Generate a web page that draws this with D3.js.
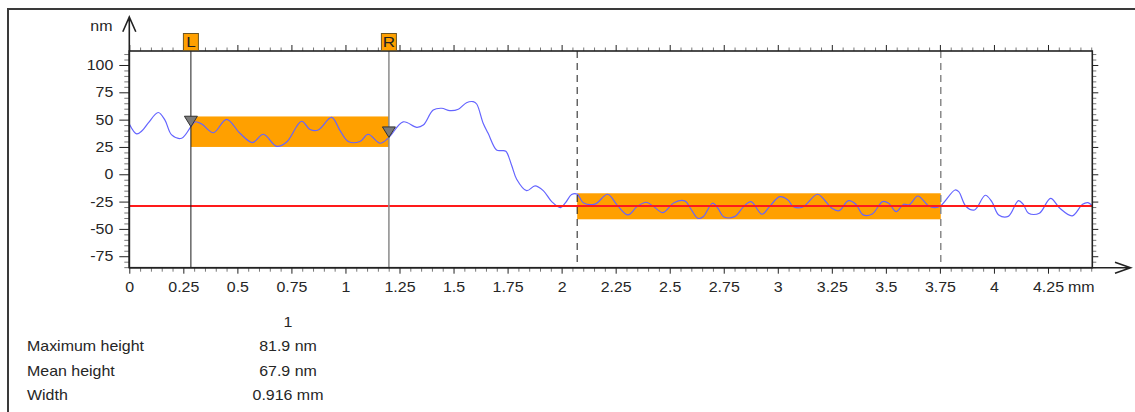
<!DOCTYPE html>
<html>
<head>
<meta charset="utf-8">
<script src="https://cdn.jsdelivr.net/npm/d3@7"></script>
<style>
  html, body { margin: 0; padding: 0; background: #fff; }
  svg { display: block; font-family: "Liberation Sans", Arial, Helvetica, sans-serif; }
</style>
</head>
<body>
<svg id="chart" width="1135" height="412"></svg>
<script>
// Height profile along the scan (position in mm, height in nm)
const profileX = [0.000,0.034,0.060,0.088,0.134,0.165,0.196,0.242,0.285,0.304,
  0.335,0.389,0.450,0.512,0.570,0.620,0.682,0.728,0.797,0.836,
  0.874,0.936,0.975,1.013,1.067,1.105,1.160,1.200,1.267,1.330,
  1.360,1.406,1.445,1.483,1.522,1.560,1.591,1.607,1.637,1.660,
  1.699,1.722,1.742,1.769,1.792,1.838,1.877,1.915,1.954,1.995,
  2.018,2.046,2.072,2.100,2.154,2.213,2.256,2.307,2.349,2.392,
  2.426,2.469,2.520,2.570,2.596,2.630,2.655,2.698,2.723,2.749,
  2.800,2.842,2.876,2.927,2.962,3.009,3.047,3.072,3.114,3.183,
  3.216,3.250,3.284,3.327,3.361,3.395,3.437,3.485,3.513,3.548,
  3.582,3.608,3.648,3.695,3.727,3.755,3.820,3.837,3.871,3.910,
  3.960,3.990,4.022,4.066,4.113,4.135,4.160,4.210,4.262,4.305,
  4.362,4.410,4.435,4.455];
const profileNm = [46,37,40,47,56.5,49.5,36,33,43.5,48,
  46,38,50.3,37.5,29,36.6,25.5,29.5,48.5,41,
  40.5,52,40,30,30,36.6,28.4,33.5,48,43,
  45,58.8,60.4,58.2,59.5,65.5,66.4,64.3,46.7,37.5,
  22.2,21.6,21,8,-4.5,-15,-10.7,-15,-25,-30.5,
  -26,-18.6,-18.2,-26,-27.3,-18.3,-28,-37.2,-29.6,-25.6,
  -29.6,-35.1,-26,-24.4,-31.1,-40.3,-38.8,-26.5,-31.1,-38.8,
  -38.8,-29.6,-25,-36.6,-29.6,-20.5,-23.5,-29.6,-30.2,-18.3,
  -23.5,-31.1,-33.3,-24.2,-27.4,-37.2,-36.3,-25,-26.5,-34.2,
  -27.4,-28,-19.9,-28.5,-30.5,-28.5,-14.4,-15.9,-29.5,-32.7,
  -19.2,-25,-37.2,-38.5,-24.2,-27.4,-35.7,-35.7,-22,-31.1,
  -38,-27.5,-26,-29];

// Axis ticks
const xTicks = [0,0.25,0.5,0.75,1,1.25,1.5,1.75,2,2.25,2.5,2.75,3,3.25,3.5,3.75,4,4.25];
const xTickLabels = ["0","0.25","0.5","0.75","1","1.25","1.5","1.75","2","2.25","2.5","2.75","3","3.25","3.5","3.75","4","4.25"];
const yTicks = [-75,-50,-25,0,25,50,75,100];
const yTickLabels = ["-75","-50","-25","0","25","50","75","100"];
const xUnit = "mm";
const yUnit = "nm";

// Reference region (dashed cursors) and its level
const refRegion = [2.072, 3.754];
const refBand = [-41.2, -17.4];
const refLevel = -29.0;

// Measurement region between cursors L and R
const cursorL = 0.285;
const cursorLabels = ["L", "R"];
const measureMin = 25.0;

// Results table
const statHeader = "1";
const statNames = ["Maximum height", "Mean height", "Width"];
const maxHeight = 81.9;
const meanHeight = 67.9;
const widthMm = 0.916;
const statValues = [maxHeight.toFixed(1) + " nm", meanHeight.toFixed(1) + " nm", widthMm.toFixed(3) + " mm"];

const cursorR = cursorL + widthMm;
const measureMax = refLevel + maxHeight;

// ---- drawing ----
const svg = d3.select("#chart");
const textColor = "#262626";
const fontSize = 14;
const stretch = 1.14;

const x = d3.scaleLinear().domain([0, 4.455]).range([129.3, 1092.3]);
const y = d3.scaleLinear().domain([-85.5, 112.8]).range([267.7, 51]);
const [x0, x1] = x.range();
const [yB, yT] = y.range();

function widen(sel) {
  sel.attr("transform", function () {
    const tx = +this.getAttribute("x") || 0;
    return `translate(${tx * (1 - stretch)},0) scale(${stretch},1)`;
  });
}

// outer frame
svg.append("path")
  .attr("d", "M7,9H1135M8,9V412")
  .attr("fill", "none").attr("stroke", "#3a3a3a").attr("stroke-width", 2);

svg.append("defs").append("clipPath").attr("id", "plotClip")
  .append("rect").attr("x", x0).attr("y", yT).attr("width", x1 - x0).attr("height", yB - yT);

// orange regions
svg.append("rect")
  .attr("x", x(cursorL)).attr("y", y(measureMax))
  .attr("width", x(cursorR) - x(cursorL)).attr("height", y(measureMin) - y(measureMax))
  .attr("fill", "#ffa000");
svg.append("rect")
  .attr("x", x(refRegion[0])).attr("y", y(refBand[1]))
  .attr("width", x(refRegion[1]) - x(refRegion[0])).attr("height", y(refBand[0]) - y(refBand[1]))
  .attr("fill", "#ffa000");

// profile
const pts = profileX.map((v, i) => [v, profileNm[i]]);
svg.append("path")
  .datum(pts)
  .attr("clip-path", "url(#plotClip)")
  .attr("fill", "none").attr("stroke", "#6464ff").attr("stroke-width", 1.2)
  .attr("d", d3.line().x(d => x(d[0])).y(d => y(d[1])).curve(d3.curveCatmullRom.alpha(0.5)));

// reference level
svg.append("line")
  .attr("x1", x0).attr("x2", x1).attr("y1", y(refLevel)).attr("y2", y(refLevel))
  .attr("stroke", "#ff1a1a").attr("stroke-width", 2);

// cursor lines
svg.append("line").attr("x1", x(cursorL)).attr("x2", x(cursorL)).attr("y1", yT).attr("y2", yB)
  .attr("stroke", "#1a1a1a").attr("stroke-width", 1);
svg.append("line").attr("x1", x(cursorR)).attr("x2", x(cursorR)).attr("y1", yT).attr("y2", yB)
  .attr("stroke", "#8a8a8a").attr("stroke-width", 1.5);
svg.append("line").attr("x1", x(refRegion[0])).attr("x2", x(refRegion[0])).attr("y1", yT).attr("y2", yB)
  .attr("stroke", "#1a1a1a").attr("stroke-width", 1).attr("stroke-dasharray", "7,5");
svg.append("line").attr("x1", x(refRegion[1])).attr("x2", x(refRegion[1])).attr("y1", yT).attr("y2", yB)
  .attr("stroke", "#8a8a8a").attr("stroke-width", 1.5).attr("stroke-dasharray", "7,5");

// axes: minor and major ticks on all four sides
const minorX = d3.range(0, 90).map(i => +(i * 0.05).toFixed(2)).filter(v => v <= 4.455 && !xTicks.includes(v));
const minorY = d3.range(-17, 23).map(i => i * 5).filter(v => v >= -85.5 && v <= 112.8 && !yTicks.includes(v));

function axisGroup(axis, tx, ty, color) {
  const g = svg.append("g").attr("transform", `translate(${tx},${ty})`).call(axis);
  g.select(".domain").remove();
  g.selectAll(".tick line").attr("stroke", color);
  g.selectAll("text").attr("fill", textColor).attr("font-size", fontSize)
    .attr("font-family", '"Liberation Sans", Arial, sans-serif');
  return g;
}

axisGroup(d3.axisBottom(x).tickValues(minorX).tickSize(4).tickFormat(""), 0, yB, "#777");
axisGroup(d3.axisTop(x).tickValues(minorX).tickSize(3.5).tickFormat(""), 0, yT, "#777");
axisGroup(d3.axisLeft(y).tickValues(minorY).tickSize(5).tickFormat(""), x0, 0, "#777");
axisGroup(d3.axisRight(y).tickValues(minorY).tickSize(4).tickFormat(""), x1, 0, "#777");

const gxB = axisGroup(d3.axisBottom(x).tickValues(xTicks).tickSize(6).tickPadding(8)
  .tickFormat((d, i) => xTickLabels[i]), 0, yB, "#222");
gxB.selectAll("text").call(widen);
axisGroup(d3.axisTop(x).tickValues(xTicks).tickSize(6).tickFormat(""), 0, yT, "#222");
const gyL = axisGroup(d3.axisLeft(y).tickValues(yTicks).tickSize(10).tickPadding(6)
  .tickFormat((d, i) => yTickLabels[i]), x0, 0, "#222");
gyL.selectAll("text").call(widen);
axisGroup(d3.axisRight(y).tickValues(yTicks).tickSize(6).tickFormat(""), x1, 0, "#222");

// plot frame and arrowed axes
svg.append("rect").attr("x", x0).attr("y", yT).attr("width", x1 - x0).attr("height", yB - yT)
  .attr("fill", "none").attr("stroke", "#222").attr("stroke-width", 1.6);
svg.append("path")
  .attr("d", `M${x0},${yB}V17M${x0 - 6.5},31.7L${x0},17L${x0 + 6.5},31.7` +
             `M${x0},${yB}H1130.5M1115,${yB - 5.5}L1130.5,${yB}L1115,${yB + 5.5}`)
  .attr("fill", "none").attr("stroke", "#222").attr("stroke-width", 1.6);

// unit labels
svg.append("text").attr("x", 112.5).attr("y", 31).attr("text-anchor", "end")
  .attr("font-size", fontSize).attr("fill", textColor).text(yUnit).call(widen);
svg.append("text").attr("x", 1068).attr("y", yB + 6 + 8 + fontSize * 0.71).attr("dy", 0)
  .attr("font-size", fontSize).attr("fill", textColor).text(xUnit).call(widen);

// cursor markers
const bis = d3.bisector(d => d).left;
function profileAt(v) {
  const i = Math.max(1, Math.min(profileX.length - 1, bis(profileX, v)));
  const t = (v - profileX[i - 1]) / (profileX[i] - profileX[i - 1]);
  return profileNm[i - 1] + t * (profileNm[i] - profileNm[i - 1]);
}
[cursorL, cursorR].forEach((c, i) => {
  const cx = x(c);
  svg.append("rect").attr("x", cx - 7.5).attr("y", 33.5).attr("width", 15).attr("height", 17)
    .attr("fill", "#ffa000").attr("stroke", "#6e5520").attr("stroke-width", 1);
  svg.append("text").attr("x", cx).attr("y", 47.5).attr("text-anchor", "middle")
    .attr("font-size", 15).attr("fill", "#222").text(cursorLabels[i]).call(widen);
  const ty = y(profileAt(c));
  svg.append("path")
    .attr("d", `M${cx - 6.5},${ty - 10.5}L${cx + 6.5},${ty - 10.5}L${cx},${ty}Z`)
    .attr("fill", "#7b7b7b").attr("stroke", "#333").attr("stroke-width", 1);
});

// results table
const colX = 288;
svg.append("text").attr("x", colX).attr("y", 326.7).attr("text-anchor", "middle")
  .attr("font-size", fontSize).attr("fill", textColor).text(statHeader).call(widen);
const rowY = [351.5, 376, 400.5];
statNames.forEach((n, i) => {
  svg.append("text").attr("x", 27).attr("y", rowY[i])
    .attr("font-size", fontSize).attr("fill", textColor).text(n).call(widen);
  svg.append("text").attr("x", colX).attr("y", rowY[i]).attr("text-anchor", "middle")
    .attr("font-size", fontSize).attr("fill", textColor).text(statValues[i]).call(widen);
});
</script>
</body>
</html>
